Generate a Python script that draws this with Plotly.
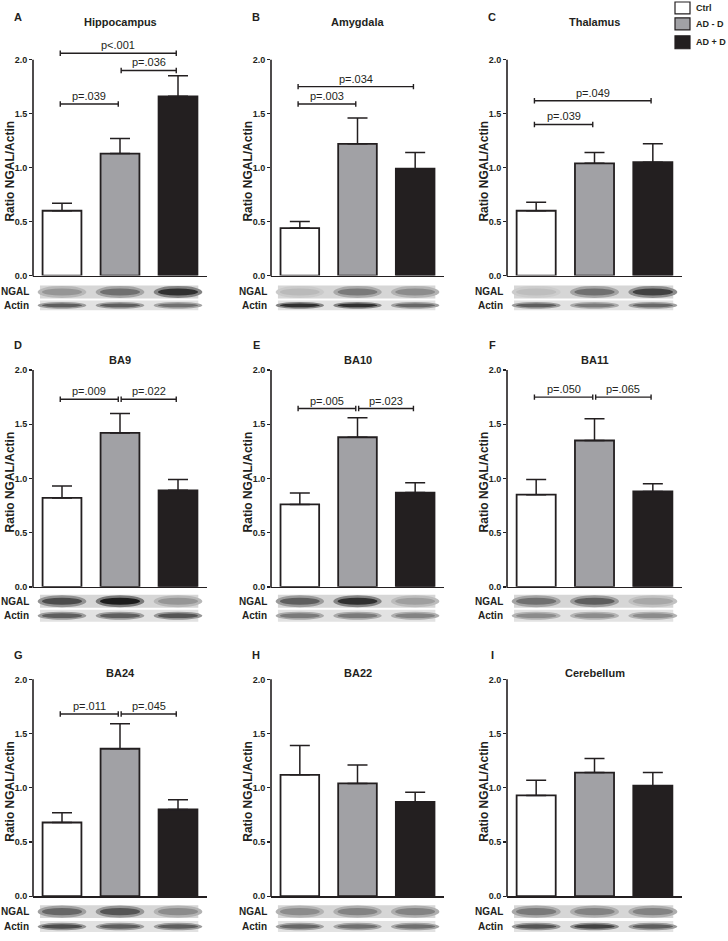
import plotly.graph_objects as go

W, H = 728, 941
FONT = "Liberation Sans, Arial, Helvetica, sans-serif"
INK = "#231f20"

# ---------------- data ----------------
groups = ["Ctrl", "AD - D", "AD + D"]
group_fill = ["#ffffff", "#a1a1a5", "#231f20"]
lanes = [0, 1, 2]

panel_letters = ["A", "B", "C", "D", "E", "F", "G", "H", "I"]
panel_titles = ["Hippocampus", "Amygdala", "Thalamus", "BA9", "BA10", "BA11",
                "BA24", "BA22", "Cerebellum"]
y_ticks = [0.0, 0.5, 1.0, 1.5, 2.0]
y_max = 2.0

hippocampus_mean = [0.60, 1.13, 1.66]
hippocampus_sem = [0.07, 0.14, 0.19]
amygdala_mean = [0.44, 1.22, 0.99]
amygdala_sem = [0.06, 0.24, 0.15]
thalamus_mean = [0.60, 1.04, 1.05]
thalamus_sem = [0.08, 0.10, 0.17]
ba9_mean = [0.82, 1.42, 0.89]
ba9_sem = [0.11, 0.18, 0.10]
ba10_mean = [0.76, 1.38, 0.87]
ba10_sem = [0.105, 0.18, 0.09]
ba11_mean = [0.85, 1.35, 0.88]
ba11_sem = [0.14, 0.20, 0.07]
ba24_mean = [0.68, 1.36, 0.80]
ba24_sem = [0.09, 0.23, 0.09]
ba22_mean = [1.12, 1.04, 0.87]
ba22_sem = [0.27, 0.17, 0.09]
cerebellum_mean = [0.93, 1.14, 1.02]
cerebellum_sem = [0.14, 0.13, 0.12]

# significance brackets: (from group, to group, height, label)
hippocampus_pvals = [(0, 2, 2.06, "p&lt;.001"), (1, 2, 1.90, "p=.036"), (0, 1, 1.59, "p=.039")]
amygdala_pvals = [(0, 2, 1.75, "p=.034"), (0, 1, 1.59, "p=.003")]
thalamus_pvals = [(0, 2, 1.62, "p=.049"), (0, 1, 1.40, "p=.039")]
ba9_pvals = [(0, 1, 1.73, "p=.009"), (1, 2, 1.73, "p=.022")]
ba10_pvals = [(0, 1, 1.645, "p=.005"), (1, 2, 1.645, "p=.023")]
ba11_pvals = [(0, 1, 1.75, "p=.050"), (1, 2, 1.75, "p=.065")]
ba24_pvals = [(0, 1, 1.68, "p=.011"), (1, 2, 1.68, "p=.045")]
ba22_pvals = []
cerebellum_pvals = []

# western-blot band darkness (0 = none, 1 = black), per lane
hippocampus_ngal = [0.30, 0.50, 0.85]
hippocampus_actin = [0.60, 0.60, 0.50]
amygdala_ngal = [0.10, 0.45, 0.35]
amygdala_actin = [0.85, 0.85, 0.55]
thalamus_ngal = [0.08, 0.50, 0.75]
thalamus_actin = [0.60, 0.45, 0.55]
ba9_ngal = [0.70, 0.95, 0.30]
ba9_actin = [0.60, 0.60, 0.65]
ba10_ngal = [0.60, 0.85, 0.25]
ba10_actin = [0.45, 0.45, 0.40]
ba11_ngal = [0.50, 0.60, 0.20]
ba11_actin = [0.35, 0.35, 0.35]
ba24_ngal = [0.55, 0.65, 0.35]
ba24_actin = [0.70, 0.60, 0.60]
ba22_ngal = [0.35, 0.40, 0.40]
ba22_actin = [0.55, 0.50, 0.50]
cerebellum_ngal = [0.45, 0.40, 0.40]
cerebellum_actin = [0.65, 0.75, 0.60]

means = [hippocampus_mean, amygdala_mean, thalamus_mean, ba9_mean, ba10_mean,
         ba11_mean, ba24_mean, ba22_mean, cerebellum_mean]
sems = [hippocampus_sem, amygdala_sem, thalamus_sem, ba9_sem, ba10_sem,
        ba11_sem, ba24_sem, ba22_sem, cerebellum_sem]
pvals = [hippocampus_pvals, amygdala_pvals, thalamus_pvals, ba9_pvals, ba10_pvals,
         ba11_pvals, ba24_pvals, ba22_pvals, cerebellum_pvals]
ngal_bands = [hippocampus_ngal, amygdala_ngal, thalamus_ngal, ba9_ngal, ba10_ngal,
              ba11_ngal, ba24_ngal, ba22_ngal, cerebellum_ngal]
actin_bands = [hippocampus_actin, amygdala_actin, thalamus_actin, ba9_actin, ba10_actin,
               ba11_actin, ba24_actin, ba22_actin, cerebellum_actin]

# ---------------- geometry (pixels) ----------------
col_px = [(33, 207), (271, 444), (507, 682)]
row_px = [(60, 277), (372, 590), (683, 901)]   # pixel of y=2.0, pixel of y=0
ngal_px = [(287, 300), (598, 611), (910, 923)]
actin_px = [(302, 312), (613, 625), (926, 937)]
title_py = [22, 362, 677]
letter_py = [17, 347, 658]
range_top = 2.25   # headroom for brackets above 2.0


def px(x):
    return x / W


def py(y):
    return 1 - y / H


def gray(d, base=232, span=190):
    v = int(round(base - span * d))
    v = max(0, min(255, v))
    return f"rgb({v},{v},{v})"


fig = go.Figure()
layout = dict(
    width=W, height=H, margin=dict(l=0, r=0, t=0, b=0),
    paper_bgcolor="white", plot_bgcolor="rgba(0,0,0,0)",
    font=dict(family=FONT, color=INK), showlegend=False,
)
annotations = []
shapes = []

for k in range(9):
    r, c = divmod(k, 3)
    sfx = "" if k == 0 else str(k + 1)
    xa, ya = "x" + sfx, "y" + sfx
    x0p, x1p = col_px[c]
    ytop, ybot = row_px[r]
    scale = (ybot - ytop) / y_max
    dom_top = ybot - range_top * scale

    layout["xaxis" + sfx] = dict(
        domain=[px(x0p), px(x1p)], anchor=ya, range=[-0.5, 2.5],
        showline=True, linecolor=INK, linewidth=1.6, ticks="",
        showticklabels=False, showgrid=False, zeroline=False, fixedrange=True)
    layout["yaxis" + sfx] = dict(
        domain=[py(ybot), py(dom_top)], anchor=xa, range=[0, range_top],
        tickvals=y_ticks, tickformat=".1f", ticks="outside", ticklen=3,
        tickwidth=1.4, tickcolor=INK, showline=False,
        showgrid=False, zeroline=False, fixedrange=True,
        tickfont=dict(size=9, family=FONT, color=INK, weight="bold"))

    # y-axis line from 0 to 2.0 only
    shapes.append(dict(type="line", xref="paper", yref="paper",
                       x0=px(x0p), x1=px(x0p), y0=py(ybot + 0.8), y1=py(ytop),
                       line=dict(color=INK, width=1.6), layer="above"))

    fig.add_trace(go.Bar(
        x=lanes, y=means[k], width=0.67, xaxis=xa, yaxis=ya,
        marker=dict(color=group_fill, line=dict(color=INK, width=1.8)),
        error_y=dict(type="data", array=sems[k], arrayminus=[0, 0, 0],
                     symmetric=False, color=INK, thickness=1.5, width=10),
        hoverinfo="skip", showlegend=False))

    # significance brackets
    for (g0, g1, lvl, lab) in pvals[k]:
        bx0 = g0 - 0.03 if g0 == 0 else g0 + 0.02
        bx1 = g1 - 0.03
        d = 0.025
        fig.add_trace(go.Scatter(
            x=[bx0, bx0, None, bx0, bx1, None, bx1, bx1],
            y=[lvl - d, lvl + d, None, lvl, lvl, None, lvl - d, lvl + d],
            mode="lines", line=dict(color=INK, width=1.4),
            xaxis=xa, yaxis=ya, hoverinfo="skip", showlegend=False))
        annotations.append(dict(
            x=(bx0 + bx1) / 2, y=lvl, xref=xa, yref=ya, text=lab, showarrow=False,
            xanchor="center", yanchor="bottom", yshift=0,
            font=dict(size=11, family=FONT, color=INK)))

    # panel letter, title, y-axis title
    annotations.append(dict(
        x=px(x0p - 15), y=py(letter_py[r]), xref="paper", yref="paper",
        text=panel_letters[k], showarrow=False, xanchor="center", yanchor="middle",
        font=dict(size=11, family=FONT, color=INK, weight="bold")))
    annotations.append(dict(
        x=px((x0p + x1p) / 2), y=py(title_py[r]), xref="paper", yref="paper",
        text=panel_titles[k], showarrow=False, xanchor="center", yanchor="middle",
        font=dict(size=11, family=FONT, color=INK, weight="bold")))
    annotations.append(dict(
        x=px(x0p - 23), y=py((ytop + ybot) / 2 + 4), xref="paper", yref="paper",
        text="Ratio NGAL/Actin", showarrow=False, textangle=-90,
        xanchor="center", yanchor="middle",
        font=dict(size=12, family=FONT, color=INK, weight="bold")))

    # western blot strips
    dref = xa + " domain"
    for (ys, bands, lab, bg, hfrac) in [
            (ngal_px[r], ngal_bands[k], "NGAL", "#d6d6d6", 0.55),
            (actin_px[r], actin_bands[k], "Actin", "#e2e2e2", 0.40)]:
        yt, yb = ys
        shapes.append(dict(type="rect", xref=dref, yref="paper", x0=0.04, x1=0.95,
                           y0=py(yb), y1=py(yt), fillcolor=bg, line=dict(width=0),
                           layer="above"))
        ymid = (yt + yb) / 2
        hh = (yb - yt) * hfrac / 2
        for j, dk in enumerate(bands):
            cx = (lanes[j] + 0.5) / 3
            shapes.append(dict(type="circle", xref=dref, yref="paper",
                               x0=cx - 0.14, x1=cx + 0.14,
                               y0=py(ymid + hh * 1.7), y1=py(ymid - hh * 1.7),
                               fillcolor=gray(dk * 0.5, base=212), line=dict(width=0),
                               layer="above"))
            shapes.append(dict(type="circle", xref=dref, yref="paper",
                               x0=cx - 0.115, x1=cx + 0.115,
                               y0=py(ymid + hh), y1=py(ymid - hh),
                               fillcolor=gray(dk, base=205, span=185), line=dict(width=0),
                               layer="above"))
        annotations.append(dict(
            x=px(x0p - 2), y=py(ymid), xref="paper", yref="paper", text=lab,
            showarrow=False, xanchor="right", yanchor="middle",
            font=dict(size=10, family=FONT, color=INK, weight="bold")))

# legend (top right)
leg_py = [(2, 14), (18, 30), (36, 49)]
for i, g in enumerate(groups):
    yt, yb = leg_py[i]
    shapes.append(dict(type="rect", xref="paper", yref="paper",
                       x0=px(675), x1=px(690), y0=py(yb), y1=py(yt),
                       fillcolor=group_fill[i], line=dict(color=INK, width=1.2)))
    annotations.append(dict(
        x=px(694), y=py((yt + yb) / 2), xref="paper", yref="paper", text=g,
        showarrow=False, xanchor="left", yanchor="middle",
        font=dict(size=9, family=FONT, color=INK, weight="bold")))

layout["annotations"] = annotations
layout["shapes"] = shapes
fig.update_layout(**layout)
fig.write_html("out.html",
               config={"displayModeBar": False, "staticPlot": True},
               post_script="document.body.style.margin='0';document.body.style.overflow='hidden';")
